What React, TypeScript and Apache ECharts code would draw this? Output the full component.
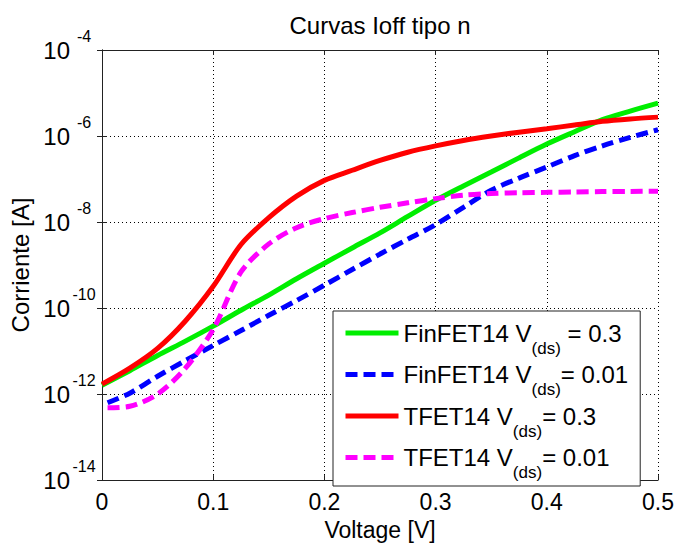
import React, { useEffect, useRef } from "react";
import * as echarts from "echarts";

const FONT = "'Liberation Sans', Arial, Helvetica, sans-serif";

// Voltage samples [V]
const xFull = [0, 0.025, 0.05, 0.075, 0.1, 0.125, 0.15, 0.175, 0.2, 0.225, 0.25, 0.275, 0.3, 0.325, 0.35, 0.375, 0.4, 0.425, 0.45, 0.475, 0.5];
const xLow = [0.005, 0.025, 0.05, 0.075, 0.1, 0.125, 0.15, 0.175, 0.2, 0.225, 0.25, 0.275, 0.3, 0.325, 0.35, 0.375, 0.4, 0.425, 0.45, 0.475, 0.5];

// Currents [A]
const finfet03 = [1.6e-12, 3.5e-12, 7.9e-12, 1.7e-11, 3.8e-11, 8.9e-11, 2.0e-10, 4.8e-10, 1.1e-9, 2.5e-9, 5.6e-9, 1.35e-8, 3.2e-8, 6.9e-8, 1.45e-7, 3.1e-7, 6.5e-7, 1.26e-6, 2.4e-6, 3.8e-6, 5.8e-6];
const finfet001 = [6.3e-13, 1.05e-12, 2.6e-12, 6.0e-12, 1.35e-11, 3.0e-11, 6.8e-11, 1.5e-10, 3.4e-10, 7.9e-10, 1.8e-9, 4.0e-9, 8.7e-9, 2.2e-8, 5.5e-8, 1.05e-7, 1.9e-7, 3.5e-7, 5.9e-7, 9.3e-7, 1.4e-6];
const tfet03 = [1.7e-12, 4.0e-12, 1.15e-11, 5.0e-11, 3.2e-10, 3.0e-9, 1.26e-8, 4.0e-8, 9.3e-8, 1.6e-7, 2.7e-7, 4.2e-7, 5.9e-7, 7.9e-7, 1.0e-6, 1.23e-6, 1.48e-6, 1.8e-6, 2.2e-6, 2.5e-6, 2.75e-6];
const tfet001 = [4.8e-13, 5.2e-13, 1.0e-12, 4.0e-12, 3.2e-11, 6.9e-10, 3.1e-9, 7.4e-9, 1.2e-8, 1.66e-8, 2.2e-8, 2.8e-8, 3.5e-8, 4.2e-8, 4.6e-8, 4.8e-8, 4.9e-8, 5.0e-8, 5.1e-8, 5.15e-8, 5.2e-8];

const seriesNames = ["FinFET14 Vds=0.3", "FinFET14 Vds=0.01", "TFET14 Vds=0.3", "TFET14 Vds=0.01"];
const legendLabels = [
  "{n|FinFET14 V}{s|(ds)}{n| = 0.3}",
  "{n|FinFET14 V}{s|(ds)}{n|= 0.01}",
  "{n|TFET14 V}{s|(ds)}{n|= 0.3}",
  "{n|TFET14 V}{s|(ds)}{n|= 0.01}",
];
const seriesColors = ["#00ee00", "#0000ff", "#ff0000", "#ff00ff"];
const seriesDashed = [false, true, false, true];

function zip(xs: number[], ys: number[]) {
  return xs.map((x, i) => [x, ys[i]]);
}

export default function App() {
  const ref = useRef<HTMLDivElement>(null);
  useEffect(() => {
    if (!ref.current) return;
    const chart = echarts.init(ref.current, undefined, { renderer: "svg" });
    const datasets = [zip(xFull, finfet03), zip(xLow, finfet001), zip(xFull, tfet03), zip(xLow, tfet001)];
    const axisLine = { show: true, lineStyle: { color: "#222", width: 1 } };
    const tick = { show: true, inside: true, length: 5, lineStyle: { color: "#222", width: 1 } };
    chart.setOption({
      animation: false,
      backgroundColor: "#fff",
      title: {
        text: "Curvas Ioff tipo n",
        left: 375,
        textAlign: "center",
        top: 8,
        textStyle: { fontFamily: FONT, fontSize: 24, fontWeight: "normal", color: "#000" },
      },
      grid: { left: 102, right: 18, top: 50, bottom: 60, show: false },
      legend: {
        orient: "vertical",
        left: 333,
        top: 311,
        padding: [10, 12, 5, 10],
        itemGap: 6,
        itemWidth: 53,
        itemHeight: 14,
        backgroundColor: "#fff",
        borderColor: "#222",
        borderWidth: 1,
        borderRadius: 0,
        selectedMode: false,
        data: seriesNames,
        lineStyle: { width: 5 },
        itemStyle: { opacity: 0 },
        formatter: (name: string) => legendLabels[seriesNames.indexOf(name)],
        textStyle: {
          color: "#000",
          fontFamily: FONT,
          rich: {
            n: { fontSize: 24, fontFamily: FONT, color: "#000" },
            s: { fontSize: 17, fontFamily: FONT, color: "#000", padding: [30, 0, 0, 0] },
          },
        },
      },
      xAxis: [
        {
          type: "value",
          min: 0,
          max: 0.5,
          interval: 0.1,
          name: "Voltage [V]",
          nameLocation: "middle",
          nameGap: 29,
          nameTextStyle: { fontFamily: FONT, fontSize: 23, color: "#000" },
          axisLine,
          axisTick: tick,
          axisLabel: { fontFamily: FONT, fontSize: 23, color: "#000", margin: 10 },
          splitLine: { show: true, lineStyle: { color: "#000", width: 1, type: [1, 3] } },
        },
        {
          type: "value",
          position: "top",
          min: 0,
          max: 0.5,
          interval: 0.1,
          axisLine,
          axisTick: tick,
          axisLabel: { show: false },
          splitLine: { show: false },
        },
      ],
      yAxis: [
        {
          type: "log",
          logBase: 100,
          min: 1e-14,
          max: 1e-4,
          name: "Corriente [A]",
          nameLocation: "middle",
          nameGap: 64,
          nameTextStyle: { fontFamily: FONT, fontSize: 24, color: "#000" },
          axisLine,
          axisTick: tick,
          minorTick: { show: false },
          axisLabel: {
            margin: 5,
            formatter: (v: number) => `{b|10}{e|${Math.round(Math.log10(v))}}`,
            rich: {
              b: { fontFamily: FONT, fontSize: 24, color: "#000" },
              e: { fontFamily: FONT, fontSize: 16, color: "#000", width: 26, align: "left", padding: [0, 0, 28, 1] },
            },
          },
          splitLine: { show: true, lineStyle: { color: "#000", width: 1, type: [1, 3] } },
        },
        {
          type: "log",
          logBase: 100,
          min: 1e-14,
          max: 1e-4,
          position: "right",
          axisLine,
          axisTick: tick,
          axisLabel: { show: false },
          splitLine: { show: false },
        },
      ],
      series: seriesNames.map((name, i) => ({
        name,
        type: "line",
        xAxisIndex: 0,
        yAxisIndex: 0,
        data: datasets[i],
        showSymbol: false,
        symbol: "none",
        smooth: 0.3,
        color: seriesColors[i],
        lineStyle: { color: seriesColors[i], width: 5, type: seriesDashed[i] ? [12, 6] : "solid" },
      })),
    });
    return () => chart.dispose();
  }, []);
  return <div ref={ref} style={{ position: "fixed", left: 0, top: 0, width: 677, height: 546 }} />;
}
